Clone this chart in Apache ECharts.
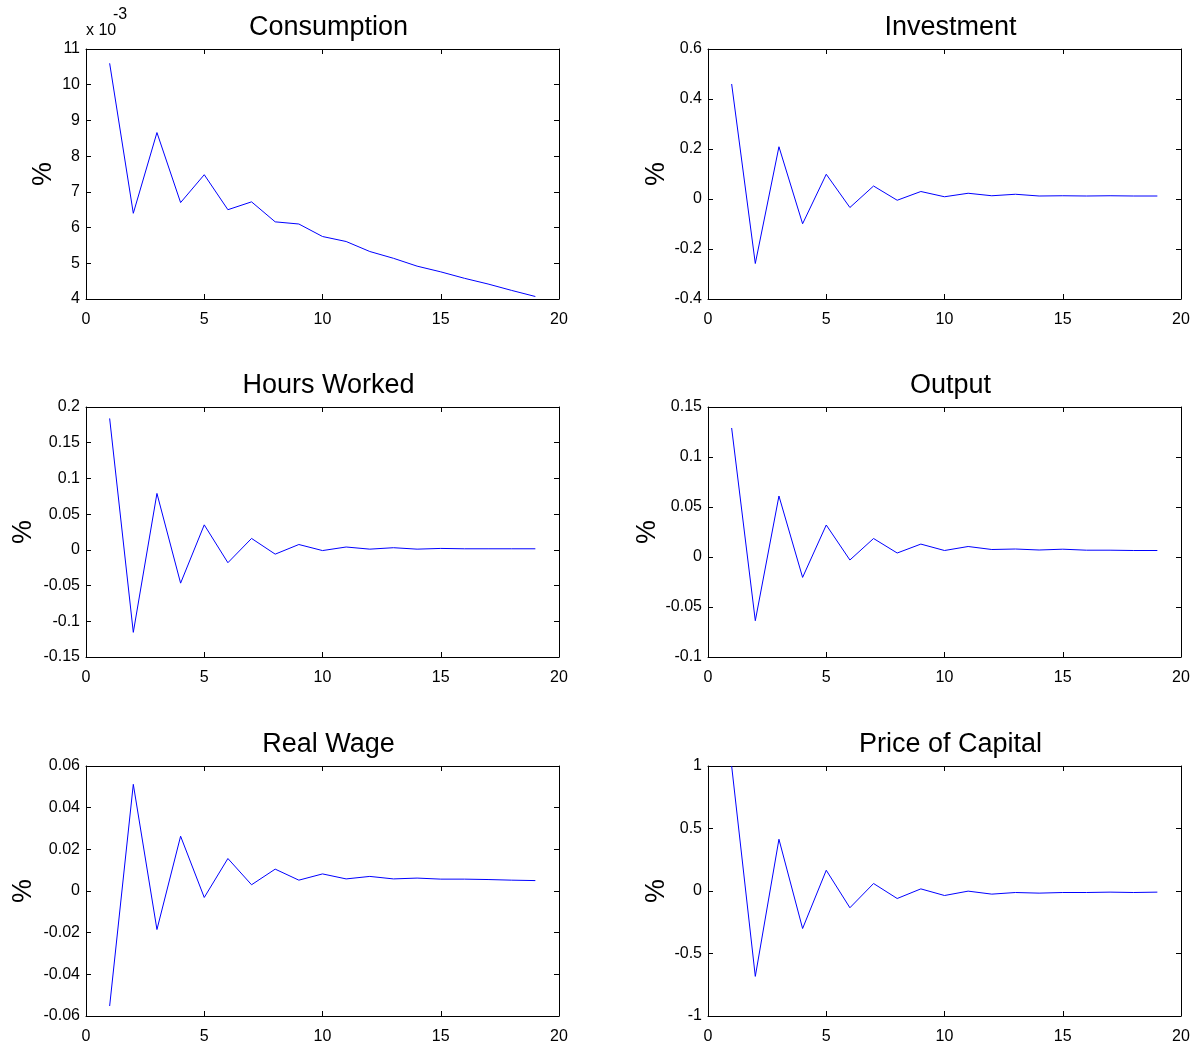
<!DOCTYPE html>
<html>
<head>
<meta charset="utf-8">
<script src="https://cdn.jsdelivr.net/npm/echarts@6/dist/echarts.min.js"></script>
<style>
  html, body { margin: 0; padding: 0; background: #fff; }
  #chart { width: 1197px; height: 1045px; }
</style>
</head>
<body>
<div id="chart"></div>
<script>
const periods = [1, 2, 3, 4, 5, 6, 7, 8, 9, 10, 11, 12, 13, 14, 15, 16, 17, 18, 19];

// consumption is shown in units of 1e-3 (axis carries "x 10^-3")
const consumption = [10.6, 6.4, 8.66, 6.7, 7.48, 6.5, 6.72, 6.16, 6.1, 5.75, 5.61, 5.33, 5.14, 4.92, 4.76, 4.58, 4.42, 4.24, 4.07];
const investment = [0.46, -0.258, 0.209, -0.099, 0.099, -0.034, 0.052, -0.005, 0.03, 0.009, 0.023, 0.013, 0.019, 0.012, 0.013, 0.012, 0.013, 0.012, 0.012];
const hoursWorked = [0.184, -0.1155, 0.079, -0.0466, 0.035, -0.018, 0.016, -0.006, 0.0075, -0.001, 0.004, 0.001, 0.003, 0.001, 0.002, 0.0015, 0.0015, 0.0015, 0.0015];
const output = [0.129, -0.0637, 0.061, -0.0204, 0.032, -0.003, 0.0185, 0.004, 0.0129, 0.0065, 0.0105, 0.0075, 0.008, 0.007, 0.0078, 0.0068, 0.0068, 0.0065, 0.0065];
const realWage = [-0.0552, 0.0512, -0.0185, 0.0263, -0.0031, 0.0156, 0.003, 0.0105, 0.0052, 0.0082, 0.0058, 0.007, 0.0058, 0.0062, 0.0057, 0.0057, 0.0055, 0.0052, 0.005];
const priceOfCapital = [1.0, -0.683, 0.414, -0.3, 0.166, -0.134, 0.06, -0.06, 0.017, -0.036, -0.001, -0.025, -0.012, -0.017, -0.012, -0.012, -0.009, -0.012, -0.009];

const titles = ["Consumption", "Investment", "Hours Worked", "Output", "Real Wage", "Price of Capital"];
const seriesValues = [consumption, investment, hoursWorked, output, realWage, priceOfCapital];
// y ranges [min, max, interval]
const yRanges = [[4, 11, 1], [-0.4, 0.6, 0.2], [-0.15, 0.2, 0.05], [-0.1, 0.15, 0.05], [-0.06, 0.06, 0.02], [-1, 1, 0.5]];
const xRange = [0, 20, 5];

const FONT = "'Liberation Sans', Arial, sans-serif";
const colLeft = [86, 708];
const rowTop = [49, 407, 766];
const plotW = 473;
const plotH = 250;
const nameGaps = [29, 34, 49, 47, 49, 34];

const chart = echarts.init(document.getElementById("chart"), null, { renderer: "canvas" });

const grids = [], xAxes = [], yAxes = [], series = [], titleList = [];

titles.forEach((t, i) => {
  const col = i % 2, row = Math.floor(i / 2);
  grids.push({ left: colLeft[col], top: rowTop[row], width: plotW, height: plotH, containLabel: false });
  titleList.push({
    text: t,
    left: colLeft[col] + plotW / 2 + 1,
    top: rowTop[row] - 40,
    textAlign: "center",
    textStyle: { fontFamily: FONT, fontSize: 27, fontWeight: "normal", color: "#000" }
  });
  const axisLine = { show: true, onZero: false, lineStyle: { color: "#000", width: 1 } };
  const tick = { show: true, inside: true, length: 5, lineStyle: { color: "#000" } };
  // bottom x
  xAxes.push({
    type: "value", gridIndex: i, position: "bottom", min: xRange[0], max: xRange[1], interval: xRange[2],
    axisLine, axisTick: tick, splitLine: { show: false },
    axisLabel: { margin: 13, fontFamily: FONT, fontSize: 16, color: "#000" }
  });
  // top x (box with ticks)
  xAxes.push({
    type: "value", gridIndex: i, position: "top", min: xRange[0], max: xRange[1], interval: xRange[2],
    axisLine, axisTick: tick, splitLine: { show: false }, axisLabel: { show: false }
  });
  const [ymin, ymax, yint] = yRanges[i];
  yAxes.push({
    type: "value", gridIndex: i, position: "left", min: ymin, max: ymax, interval: yint,
    axisLine, axisTick: tick, splitLine: { show: false },
    axisLabel: { margin: 6, fontFamily: FONT, fontSize: 16, color: "#000" },
    name: "%", nameLocation: "middle", nameGap: nameGaps[i],
    nameTextStyle: { fontFamily: FONT, fontSize: 27, color: "#000" }
  });
  yAxes.push({
    type: "value", gridIndex: i, position: "right", min: ymin, max: ymax, interval: yint,
    axisLine, axisTick: tick, splitLine: { show: false }, axisLabel: { show: false }
  });
  series.push({
    type: "line",
    xAxisIndex: i * 2,
    yAxisIndex: i * 2,
    showSymbol: false,
    symbol: "none",
    data: periods.map((p, k) => [p, seriesValues[i][k]]),
    lineStyle: { color: "#0000ff", width: 1 },
    itemStyle: { color: "#0000ff" },
    clip: true
  });
});

chart.setOption({
  animation: false,
  backgroundColor: "#fff",
  title: titleList,
  grid: grids,
  xAxis: xAxes,
  yAxis: yAxes,
  series,
  graphic: [
    { type: "text", left: 86, top: 23, style: { text: "x 10", font: "16px " + FONT, fill: "#000" } },
    { type: "text", left: 113, top: 7, style: { text: "-3", font: "16px " + FONT, fill: "#000" } }
  ]
});
</script>
</body>
</html>
